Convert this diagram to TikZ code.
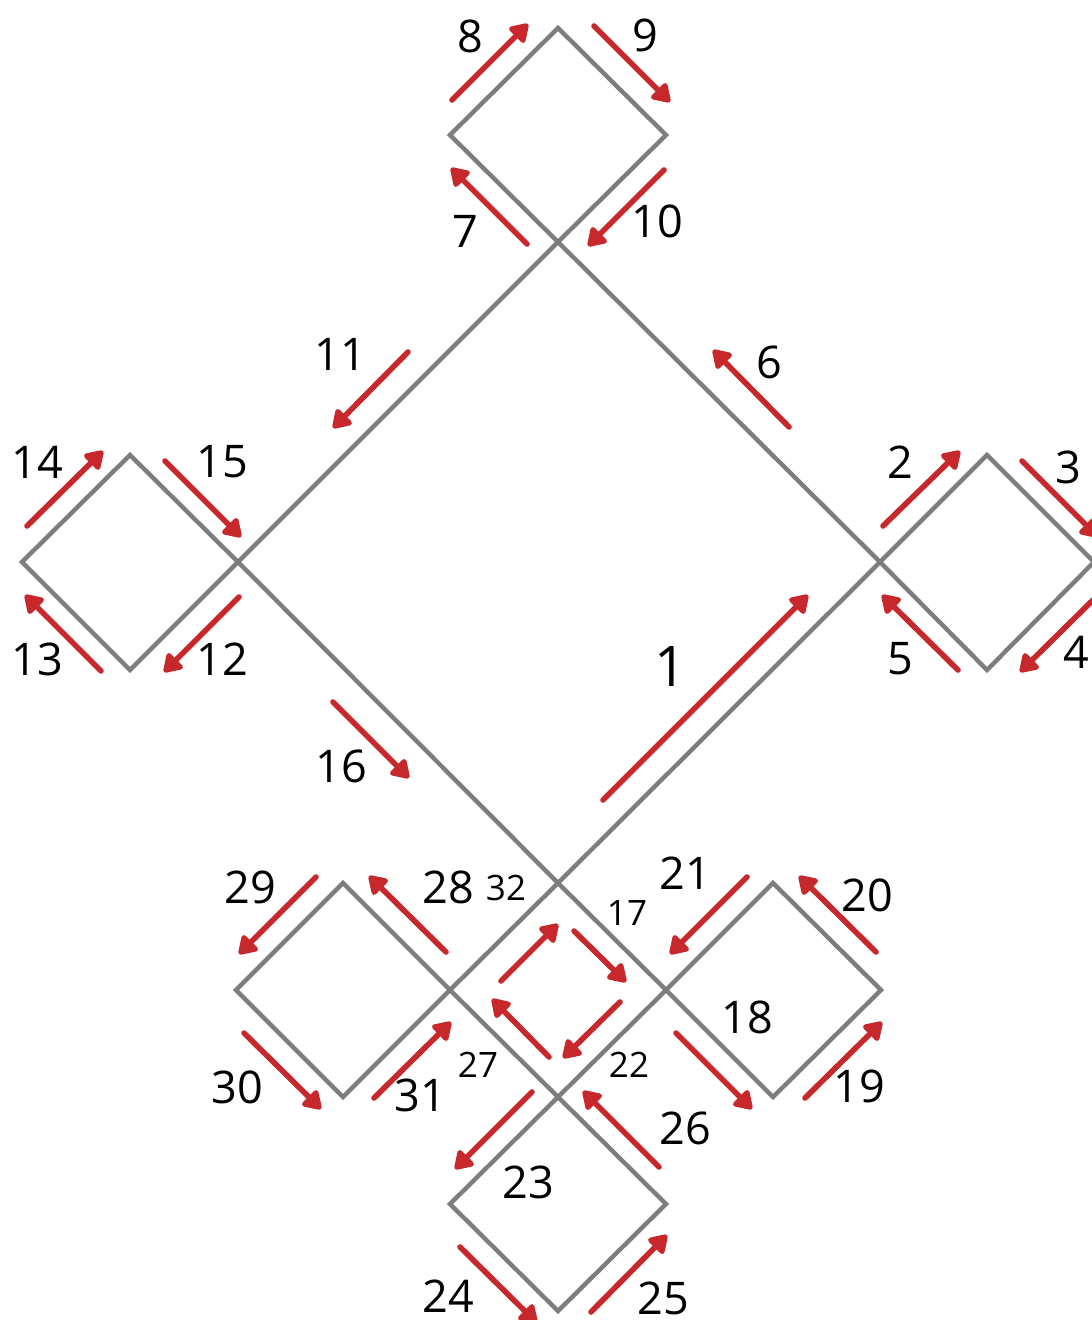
\documentclass[tikz,border=0pt]{standalone}
\usepackage{fontspec}
\setmainfont{Open Sans}
\usetikzlibrary{arrows.meta}
\definecolor{flowred}{RGB}{198,40,44}
\definecolor{edgegray}{RGB}{125,125,125}
\begin{document}
\begin{tikzpicture}[x=0.5pt, y=-0.5pt,
    edge/.style={draw=edgegray, line width=2.2pt, line join=miter},
    flow/.style={flowred, line width=2.8pt, line cap=round,
      -{Triangle[length=10pt, width=12pt, round]}},
    lbl/.style={inner sep=0pt, font=\fontsize{22.5}{27}\selectfont},
    small/.style={inner sep=0pt, font=\fontsize{17.5}{21}\selectfont}]
  \useasboundingbox (0,0) rectangle (1091,1320);
  % big diamond
  \draw[edge] (558,242) -- (880,562) -- (558,883) -- (238,562) -- cycle;
  % small diamonds
  \draw[edge] (558,28) -- (666,135) -- (558,242) -- (450,135) -- cycle;
  \draw[edge] (130,455) -- (238,562) -- (130,670) -- (22,562) -- cycle;
  \draw[edge] (987,455) -- (1094,562) -- (987,670) -- (880,562) -- cycle;
  \draw[edge] (558,883) -- (666,990) -- (558,1097) -- (450,990) -- cycle;
  \draw[edge] (773,883) -- (881,990) -- (773,1097) -- (666,990) -- cycle;
  \draw[edge] (343,883) -- (450,990) -- (343,1097) -- (236,990) -- cycle;
  \draw[edge] (558,1097) -- (666,1204) -- (558,1311) -- (450,1204) -- cycle;
  % top
  \draw[flow] (452,100) -- (528,24);
  \draw[flow] (594,26) -- (670,102);
  \draw[flow] (664,170) -- (588,246);
  \draw[flow] (527,244) -- (451,168);
  % left
  \draw[flow] (27,526) -- (103,451);
  \draw[flow] (165,461) -- (241,537);
  \draw[flow] (239,597) -- (164,672);
  \draw[flow] (101,671) -- (25,595);
  % right
  \draw[flow] (883,526) -- (960,451);
  \draw[flow] (1022,461) -- (1098,537);
  \draw[flow] (1096,597) -- (1020,672);
  \draw[flow] (958,670) -- (882,595);
  % big diamond
  \draw[flow] (789,427) -- (713,350);
  \draw[flow] (408,352) -- (333,428);
  \draw[flow] (333,702) -- (409,778);
  \draw[flow] (603,800) -- (808,595);
  % bottom cluster, centre
  \draw[flow] (501,981) -- (558,924);
  \draw[flow] (574,931) -- (626,982);
  \draw[flow] (620,1002) -- (563,1058);
  \draw[flow] (549,1057) -- (492,999);
  % bottom cluster, right
  \draw[flow] (747,877) -- (670,954);
  \draw[flow] (876,952) -- (799,876);
  \draw[flow] (676,1033) -- (752,1109);
  \draw[flow] (805,1098) -- (882,1022);
  % bottom cluster, left
  \draw[flow] (316,877) -- (239,954);
  \draw[flow] (446,952) -- (369,876);
  \draw[flow] (244,1033) -- (321,1109);
  \draw[flow] (374,1098) -- (451,1022);
  % bottom
  \draw[flow] (532,1092) -- (455,1169);
  \draw[flow] (659,1167) -- (583,1091);
  \draw[flow] (460,1247) -- (537,1323);
  \draw[flow] (591,1312) -- (667,1235);
  % labels
  \node[inner sep=0pt, font=\fontsize{28}{34}\selectfont] (l1) at (670,667) {1};
  \node[lbl] (l2) at (900,462) {2};
  \node[lbl] (l3) at (1068,467) {3};
  \node[lbl] (l4) at (1076,652) {4};
  \node[lbl] (l5) at (900,659) {5};
  \node[lbl] (l6) at (769,362) {6};
  \node[lbl] (l7) at (465,231) {7};
  \node[lbl] (l8) at (470,36) {8};
  \node[lbl] (l9) at (645,35) {9};
  \node[lbl] (l10) at (657,221) {10};
  \node[lbl] (l11) at (340,354) {11};
  \node[lbl] (l12) at (222,659) {12};
  \node[lbl] (l13) at (37,659) {13};
  \node[lbl] (l14) at (37,462) {14};
  \node[lbl] (l15) at (222,462) {15};
  \node[lbl] (l16) at (341,766) {16};
  \node[small] (l17) at (627,913) {17};
  \node[lbl] (l18) at (747,1017) {18};
  \node[lbl] (l19) at (859,1086) {19};
  \node[lbl] (l20) at (867,895) {20};
  \node[lbl] (l21) at (685,873) {21};
  \node[small] (l22) at (629,1065) {22};
  \node[lbl] (l23) at (528,1182) {23};
  \node[lbl] (l24) at (448,1296) {24};
  \node[lbl] (l25) at (663,1298) {25};
  \node[lbl] (l26) at (685,1128) {26};
  \node[small] (l27) at (478,1065) {27};
  \node[lbl] (l28) at (448,887) {28};
  \node[lbl] (l29) at (250,887) {29};
  \node[lbl] (l30) at (237,1087) {30};
  \node[lbl] (l31) at (420,1095) {31};
  \node[small] (l32) at (506,888) {32};
\end{tikzpicture}
\end{document}
